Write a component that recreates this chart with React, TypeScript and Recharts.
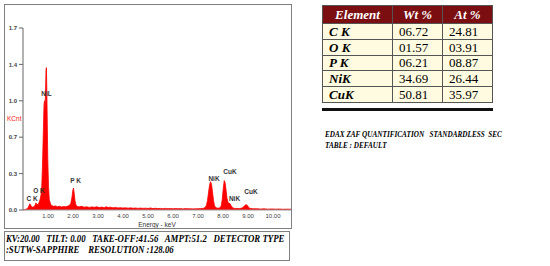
import React from 'react';
import { AreaChart, Area, XAxis, YAxis, ReferenceDot } from 'recharts';

// EDS spectrum, energy in keV and counts in KCnt
const energies = [
  0.0, 0.1, 0.16, 0.2, 0.24, 0.27, 0.3, 0.34, 0.4, 0.45, 0.49, 0.52, 0.55, 0.6, 0.64, 0.68, 0.72, 0.75, 0.78, 0.81,
  0.84, 0.86, 0.88, 0.9, 0.92, 0.935, 0.95, 0.97, 0.99, 1.02, 1.05, 1.1, 1.16, 1.22, 1.3, 1.38, 1.46, 1.54, 1.62, 1.7,
  1.78, 1.85, 1.91, 1.96, 1.99, 2.02, 2.05, 2.08, 2.12, 2.18, 2.25, 2.35, 2.45, 2.55, 2.65, 2.75, 2.85, 2.95, 3.05, 3.15,
  3.25, 3.32, 3.4, 3.5, 3.6, 3.7, 3.8, 3.9, 4.0, 4.1, 4.2, 4.3, 4.4, 4.5, 4.6, 4.7, 4.8, 4.9, 5.0, 5.1,
  5.2, 5.3, 5.4, 5.5, 5.6, 5.7, 5.8, 5.9, 6.0, 6.1, 6.2, 6.3, 6.4, 6.5, 6.6, 6.7, 6.8, 6.9, 7.0, 7.1,
  7.2, 7.28, 7.34, 7.38, 7.42, 7.46, 7.5, 7.54, 7.58, 7.62, 7.66, 7.72, 7.8, 7.88, 7.93, 7.97, 8.01, 8.05, 8.08, 8.12,
  8.16, 8.2, 8.24, 8.28, 8.32, 8.38, 8.46, 8.56, 8.66, 8.76, 8.82, 8.87, 8.92, 8.97, 9.02, 9.08, 9.2, 9.35, 9.5, 9.65,
  9.8, 9.95, 10.1, 10.25, 10.4, 10.55, 10.72,
];
const counts = [
  0.0, 0.004, 0.012, 0.022, 0.04, 0.058, 0.05, 0.03, 0.026, 0.032, 0.048, 0.066, 0.052, 0.05, 0.068, 0.095, 0.14, 0.22, 0.42, 0.7,
  0.98, 1.02, 0.92, 1.1, 1.3, 1.33, 1.16, 0.82, 0.48, 0.22, 0.1, 0.055, 0.04, 0.034, 0.038, 0.03, 0.035, 0.028, 0.033, 0.03,
  0.036, 0.042, 0.06, 0.12, 0.18, 0.205, 0.15, 0.085, 0.045, 0.032, 0.03, 0.034, 0.026, 0.03, 0.024, 0.029, 0.025, 0.03, 0.023, 0.027,
  0.022, 0.03, 0.024, 0.026, 0.02, 0.024, 0.019, 0.022, 0.018, 0.021, 0.017, 0.02, 0.016, 0.019, 0.015, 0.018, 0.015, 0.017, 0.014, 0.019,
  0.013, 0.016, 0.013, 0.015, 0.012, 0.015, 0.012, 0.014, 0.011, 0.014, 0.011, 0.013, 0.01, 0.013, 0.011, 0.012, 0.01, 0.012, 0.011, 0.013,
  0.015, 0.022, 0.045, 0.09, 0.16, 0.23, 0.265, 0.24, 0.17, 0.09, 0.04, 0.02, 0.016, 0.02, 0.04, 0.1, 0.2, 0.275, 0.26, 0.19,
  0.11, 0.07, 0.062, 0.06, 0.042, 0.022, 0.015, 0.013, 0.014, 0.018, 0.028, 0.042, 0.05, 0.044, 0.026, 0.015, 0.011, 0.012, 0.009, 0.011,
  0.008, 0.01, 0.008, 0.009, 0.007, 0.008, 0.007,
];

const xTicks = [1, 2, 3, 4, 5, 6, 7, 8, 9, 10];
const yTicks = [0, 0.34, 0.68, 1.02, 1.36, 1.7];

// peak labels: text, energy, height
const peakNames = ['C K', 'O K', 'NiL', 'P K', 'NiK', 'CuK', 'NiK', 'CuK'];
const peakEnergies = [0.36, 0.64, 0.94, 2.1, 7.64, 8.28, 8.46, 9.12];
const peakHeights = [0.11, 0.18, 1.09, 0.27, 0.29, 0.355, 0.11, 0.17];

const elements = ['C K', 'O K', 'P K', 'NiK', 'CuK'];
const wtPct = ['06.72', '01.57', '06.21', '34.69', '50.81'];
const atPct = ['24.81', '03.91', '08.87', '26.44', '35.97'];

const spectrum = energies.map((e, i) => ({ e, c: counts[i] }));

const serif = '"Liberation Serif", "Times New Roman", serif';
const sans = '"Liberation Sans", Arial, sans-serif';

const cell: React.CSSProperties = {
  border: '1px solid #555',
  padding: '0 6px',
  lineHeight: '13px',
};

export default function App() {
  return (
    <div style={{ position: 'absolute', left: 0, top: 0, width: 550, height: 266, background: '#fff', fontFamily: serif }}>
      <div style={{ position: 'absolute', left: 4, top: 4, width: 286, height: 223, border: '1px solid #808080' }}>
        <AreaChart width={286} height={223} data={spectrum} margin={{ top: 23, right: 0, left: 0, bottom: 0 }}>
          <XAxis
            dataKey="e"
            type="number"
            domain={[0, 10.72]}
            ticks={xTicks}
            tickFormatter={(v: number) => v.toFixed(2)}
            tickSize={0}
            tickLine={false}
            tickMargin={4}
            axisLine={{ stroke: '#999' }}
            height={18}
            tick={{ fontSize: 6, fill: '#444', fontFamily: sans }}
            label={{ value: 'Energy - keV', position: 'insideBottom', offset: 1, fontSize: 6.5, fill: '#333', fontFamily: sans }}
          />
          <YAxis
            type="number"
            domain={[0, 1.7]}
            ticks={yTicks}
            tickFormatter={(v: number) => v.toFixed(1)}
            tickSize={4}
            width={18}
            axisLine={{ stroke: '#666' }}
            tickLine={{ stroke: '#666' }}
            tick={{ fontSize: 6, fill: '#444', fontFamily: sans, fontWeight: 'bold' }}
            label={{ value: 'KCnt', position: 'insideLeft', offset: 2, fontSize: 6.5, fill: '#ff2020', fontFamily: sans, textAnchor: 'start' }}
          />
          <Area
            type="linear"
            dataKey="c"
            stroke="#ff0000"
            strokeWidth={0.8}
            fill="#ff0000"
            fillOpacity={1}
            isAnimationActive={false}
          />
          {peakNames.map((n, i) => (
            <ReferenceDot
              key={i}
              x={peakEnergies[i]}
              y={peakHeights[i]}
              r={0.1}
              fill="none"
              stroke="none"
              label={{ value: n, position: 'center', fontSize: 6.5, fill: '#333', fontFamily: sans, fontWeight: 'bold' }}
            />
          ))}
        </AreaChart>
      </div>

      <div
        style={{
          position: 'absolute',
          left: 4,
          top: 231,
          width: 286,
          height: 30,
          border: '1px solid #808080',
          boxSizing: 'border-box',
        }}
      >
        <div
          style={{
            fontSize: 10,
            fontWeight: 'bold',
            fontStyle: 'italic',
            lineHeight: '11px',
            padding: '1px 0 0 1px',
            whiteSpace: 'pre',
            transform: 'scaleX(0.88)',
            transformOrigin: 'left top',
          }}
        >
          {'KV:20.00   TILT: 0.00   TAKE-OFF:41.56   AMPT:51.2   DETECTOR TYPE\n:SUTW-SAPPHIRE    RESOLUTION :128.06'}
        </div>
      </div>

      <div style={{ position: 'absolute', left: 322, top: 5, width: 171 }}>
        <table style={{ borderCollapse: 'collapse', width: 171, fontSize: 13, background: '#fffbe0' }}>
          <thead>
            <tr style={{ height: 18, background: '#7a0e10', color: '#fff', fontWeight: 'bold', fontStyle: 'italic' }}>
              <th style={{ ...cell, width: 57, textAlign: 'center' }}>Element</th>
              <th style={{ ...cell, textAlign: 'center' }}>Wt %</th>
              <th style={{ ...cell, textAlign: 'center' }}>At %</th>
            </tr>
          </thead>
          <tbody>
            {elements.map((el, i) => (
              <tr key={el} style={{ height: 15.8 }}>
                <td style={{ ...cell, fontWeight: 'bold', fontStyle: 'italic' }}>{el}</td>
                <td style={cell}>{wtPct[i]}</td>
                <td style={cell}>{atPct[i]}</td>
              </tr>
            ))}
          </tbody>
        </table>
        <div style={{ marginTop: 5, height: 3, background: '#111', width: 171 }} />
      </div>

      <div
        style={{
          position: 'absolute',
          left: 325,
          top: 129,
          fontSize: 9,
          fontWeight: 'bold',
          fontStyle: 'italic',
          lineHeight: '10.5px',
          whiteSpace: 'pre',
          transform: 'scaleX(0.8)',
          transformOrigin: 'left top',
        }}
      >
        {'EDAX ZAF QUANTIFICATION   STANDARDLESS  SEC\nTABLE : DEFAULT'}
      </div>
    </div>
  );
}
